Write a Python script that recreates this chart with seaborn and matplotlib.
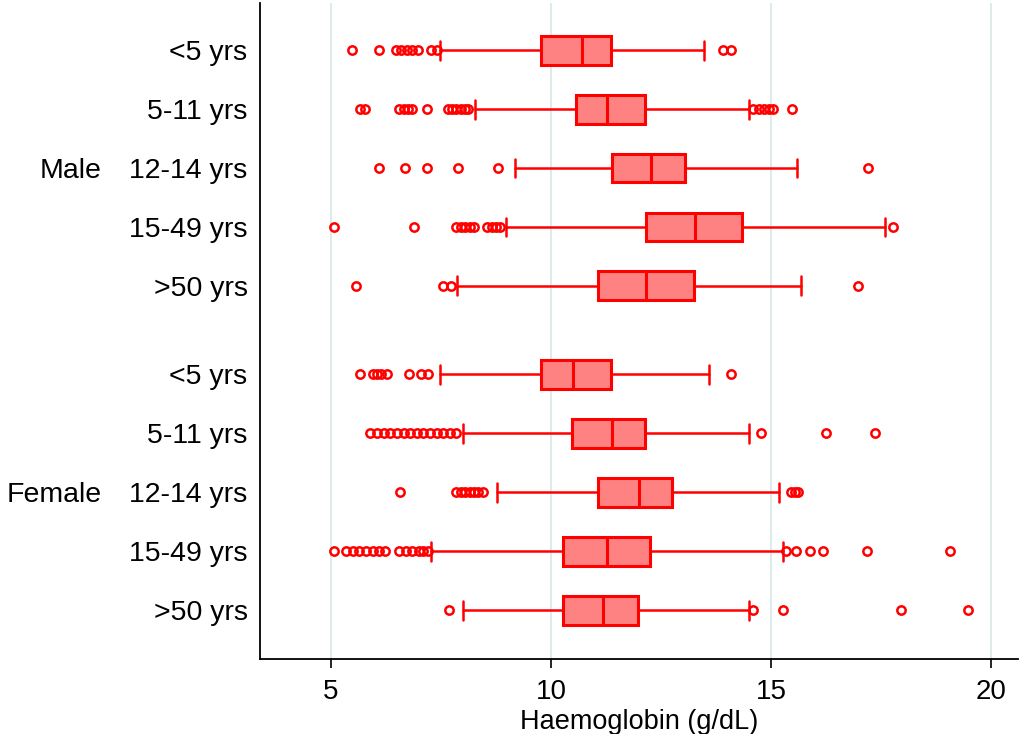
import matplotlib
matplotlib.use("Agg")
import matplotlib.pyplot as plt
import matplotlib.transforms as mtransforms
import seaborn as sns

# data
ages = ["<5 yrs", "5-11 yrs", "12-14 yrs", "15-49 yrs", ">50 yrs"] * 2
sexes = ["Male", "Female"]
q1 = [9.78, 10.56, 11.38, 12.16, 11.06, 9.78, 10.47, 11.06, 10.27, 10.27]
med = [10.70, 11.27, 12.27, 13.27, 12.16, 10.49, 11.38, 11.99, 11.27, 11.18]
q3 = [11.36, 12.14, 13.05, 14.35, 13.25, 11.36, 12.14, 12.76, 12.26, 11.97]
whislo = [7.47, 8.28, 9.19, 8.97, 7.87, 7.47, 8.00, 8.77, 7.28, 8.00]
whishi = [13.47, 14.49, 15.60, 17.58, 15.68, 13.59, 14.49, 15.18, 15.26, 14.49]
fliers = [
    [5.48, 6.10, 6.47, 6.60, 6.72, 6.85, 6.97, 7.28, 7.40, 13.90, 14.09],
    [5.66, 5.77, 6.55, 6.65, 6.75, 6.85, 7.18, 7.65, 7.75, 7.85, 7.95, 8.05, 8.12,
     14.60, 14.72, 14.85, 14.95, 15.05, 15.47],
    [6.10, 6.68, 7.18, 7.89, 8.79, 17.20],
    [5.07, 6.88, 7.85, 7.95, 8.05, 8.15, 8.25, 8.55, 8.65, 8.75, 8.85, 17.77],
    [5.57, 7.55, 7.74, 16.98],
    [5.67, 5.95, 6.05, 6.15, 6.28, 6.78, 7.05, 7.20, 14.09],
    [5.90, 6.05, 6.20, 6.35, 6.50, 6.65, 6.80, 6.95, 7.10, 7.25, 7.40, 7.55, 7.70,
     7.85, 14.78, 16.25, 17.36],
    [6.58, 7.85, 7.95, 8.05, 8.15, 8.25, 8.35, 8.45, 15.45, 15.55, 15.62],
    [5.07, 5.35, 5.50, 5.65, 5.80, 5.95, 6.10, 6.22, 6.55, 6.70, 6.85, 7.00, 7.10,
     7.20, 15.33, 15.56, 15.88, 16.17, 17.18, 19.07],
    [7.68, 14.58, 15.27, 17.96, 19.47],
]

positions = [0, 1, 2, 3, 4, 5.5, 6.5, 7.5, 8.5, 9.5]

sns.set_style("white")
plt.rcParams["font.family"] = ["Liberation Sans", "DejaVu Sans"]
plt.rcParams["text.color"] = "black"
plt.rcParams["axes.labelcolor"] = "black"
plt.rcParams["xtick.color"] = "black"
plt.rcParams["ytick.color"] = "black"

fig = plt.figure(figsize=(10.21, 7.34), dpi=100)
ax = fig.add_axes([260 / 1021, 1 - 659 / 734, (1018 - 260) / 1021, (659 - 3) / 734])

stats = []
for i in range(len(ages)):
    stats.append({"q1": q1[i], "med": med[i], "q3": q3[i],
                  "whislo": whislo[i], "whishi": whishi[i], "fliers": fliers[i]})

red = "#ff0000"
ax.bxp(stats, positions=positions, orientation="horizontal", widths=0.49,
       capwidths=0.32, patch_artist=True, manage_ticks=False,
       boxprops=dict(facecolor="#ff8282", edgecolor=red, linewidth=2.2),
       medianprops=dict(color=red, linewidth=2.2),
       whiskerprops=dict(color=red, linewidth=1.8),
       capprops=dict(color=red, linewidth=1.8),
       flierprops=dict(marker="o", markerfacecolor="none", markeredgecolor=red,
                       markersize=6, markeredgewidth=1.8))

ax.set_xlim(3.39, 20.61)
ax.set_ylim(10.33, -0.8)
ax.set_xticks([5, 10, 15, 20])
ax.set_yticks(positions)
ax.set_yticklabels(ages)
ax.tick_params(axis="y", length=0, pad=9, labelsize=20.5)
ax.tick_params(axis="x", length=6.5, width=1.2, direction="out", labelsize=20,
               bottom=True, pad=8)
ax.set_xlabel("Haemoglobin (g/dL)", fontsize=19.5, labelpad=3)

for x in [5, 10, 15, 20]:
    ax.axvline(x, color="#dfeaea", linewidth=1.5, zorder=0)

sns.despine(ax=ax, top=True, right=True)
for s in ["left", "bottom"]:
    ax.spines[s].set_color("black")
    ax.spines[s].set_linewidth(1.3)

trans = mtransforms.blended_transform_factory(ax.transAxes, ax.transData)
ax.text((102 - 260) / 758, 2, "Male", transform=trans, ha="right",
        va="center_baseline", fontsize=20.5)
ax.text((102 - 260) / 758, 7.5, "Female", transform=trans, ha="right",
        va="center_baseline", fontsize=20.5)

fig.savefig("out.png", dpi=100)
